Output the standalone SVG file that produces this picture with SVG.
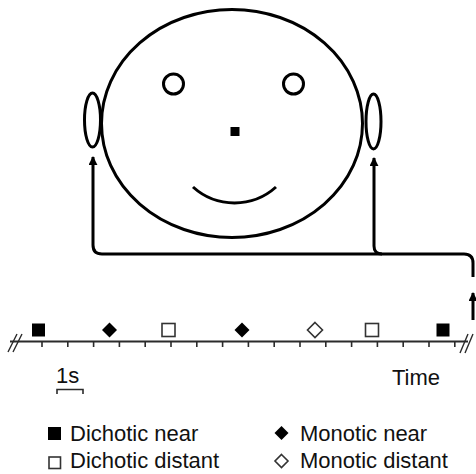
<svg xmlns="http://www.w3.org/2000/svg" width="476" height="474" viewBox="0 0 476 474">
  <style>
    .line { fill: none; stroke: #000; stroke-width: 3; stroke-linecap: butt; stroke-linejoin: round; }
    .axis { fill: none; stroke: #2b2b2b; stroke-width: 2; }
    .tick { fill: none; stroke: #2b2b2b; stroke-width: 1.6; }
    .brk { fill: none; stroke: #2b2b2b; stroke-width: 1.4; }
    .filled { fill: #000; stroke: none; }
    .open { fill: #fff; stroke: #333; stroke-width: 1.6; }
    .label { font-family: "Liberation Sans", Arial, sans-serif; font-size: 22px; fill: #111; }
  </style>
  <defs>
    <marker id="arrow" viewBox="0 0 10 10" refX="9" refY="5" markerWidth="3" markerHeight="3" orient="auto-start-reverse" markerUnits="strokeWidth">
      <path d="M0,0 L10,5 L0,10 z" fill="#000"/>
    </marker>
    <rect id="sq" x="-6.5" y="-6.5" width="13" height="13"/>
    <path id="dm" d="M0,-7.5 L7.5,0 L0,7.5 L-7.5,0 z"/>
  </defs>
  <rect width="476" height="474" fill="#fff"/>

  <!-- head -->
  <g id="head">
    <ellipse class="line" cx="232" cy="123.5" rx="130.5" ry="114"/>
    <circle class="line" cx="173.5" cy="84" r="10"/>
    <circle class="line" cx="293.5" cy="84" r="10"/>
    <rect class="filled" x="230.5" y="127" width="9" height="9"/>
    <path class="line" d="M193,187 A62,62 0 0 0 276,187"/>
  </g>
  <g id="ear-left">
    <ellipse class="line" cx="92.5" cy="120" rx="8" ry="27"/>
  </g>
  <g id="ear-right">
    <ellipse class="line" cx="373.5" cy="121.5" rx="7.5" ry="27.5"/>
  </g>

  <!-- connectors -->
  <g id="connectors">
    <path class="line" marker-start="url(#arrow)" d="M93,157 V245 Q93,254 102,254 H464 Q473,254 473,263 V277"/>
    <path class="line" marker-start="url(#arrow)" d="M374,158 V246 Q374,254 382,254"/>
    <path class="line" marker-end="url(#arrow)" d="M473,320 V293"/>
  </g>

  <!-- timeline -->
  <g id="timeline">
    <path class="axis" d="M10,341.5 H468"/>
    <path class="brk" d="M8,352 L17,334 M13,352 L22,334"/>
    <path class="brk" d="M460,353 L468,334 M465,353 L473,334"/>
    <path class="tick" d="M42,341 v6 M67.8,341 v6 M93.6,341 v6 M119.4,341 v6 M145.2,341 v6 M171,341 v6 M196.8,341 v6 M222.6,341 v6 M248.4,341 v6 M274.2,341 v6 M300,341 v6 M325.8,341 v6 M351.6,341 v6 M377.4,341 v6 M403.2,341 v6 M429,341 v6 M454.8,341 v6"/>
  </g>

  <!-- events along the time axis -->
  <g id="events">
    <use href="#sq" class="filled" x="38.5" y="330"/>
    <use href="#dm" class="filled" x="109.5" y="330"/>
    <use href="#sq" class="open" x="168.5" y="330"/>
    <use href="#dm" class="filled" x="242" y="330"/>
    <use href="#dm" class="open" x="315" y="330"/>
    <use href="#sq" class="open" x="372" y="330"/>
    <use href="#sq" class="filled" x="443" y="330"/>
  </g>

  <!-- scale and axis label -->
  <g id="scale">
    <text class="label" x="56" y="383">1s</text>
    <path class="tick" d="M57,394 V389.5 H83 V394"/>
    <text class="label" x="392" y="385">Time</text>
  </g>

  <!-- legend -->
  <g id="legend">
    <rect class="filled" x="48" y="427" width="13" height="13"/>
    <text class="label" x="70" y="441">Dichotic near</text>
    <rect class="open" x="49" y="457" width="11.5" height="11.5"/>
    <text class="label" x="70" y="468">Dichotic distant</text>
    <path class="filled" d="M281.5,426 L288.5,433 L281.5,440 L274.5,433 z"/>
    <text class="label" x="300" y="441">Monotic near</text>
    <path class="open" d="M281.5,454.5 L288,461 L281.5,467.5 L275,461 z"/>
    <text class="label" x="300" y="468">Monotic distant</text>
  </g>
</svg>
